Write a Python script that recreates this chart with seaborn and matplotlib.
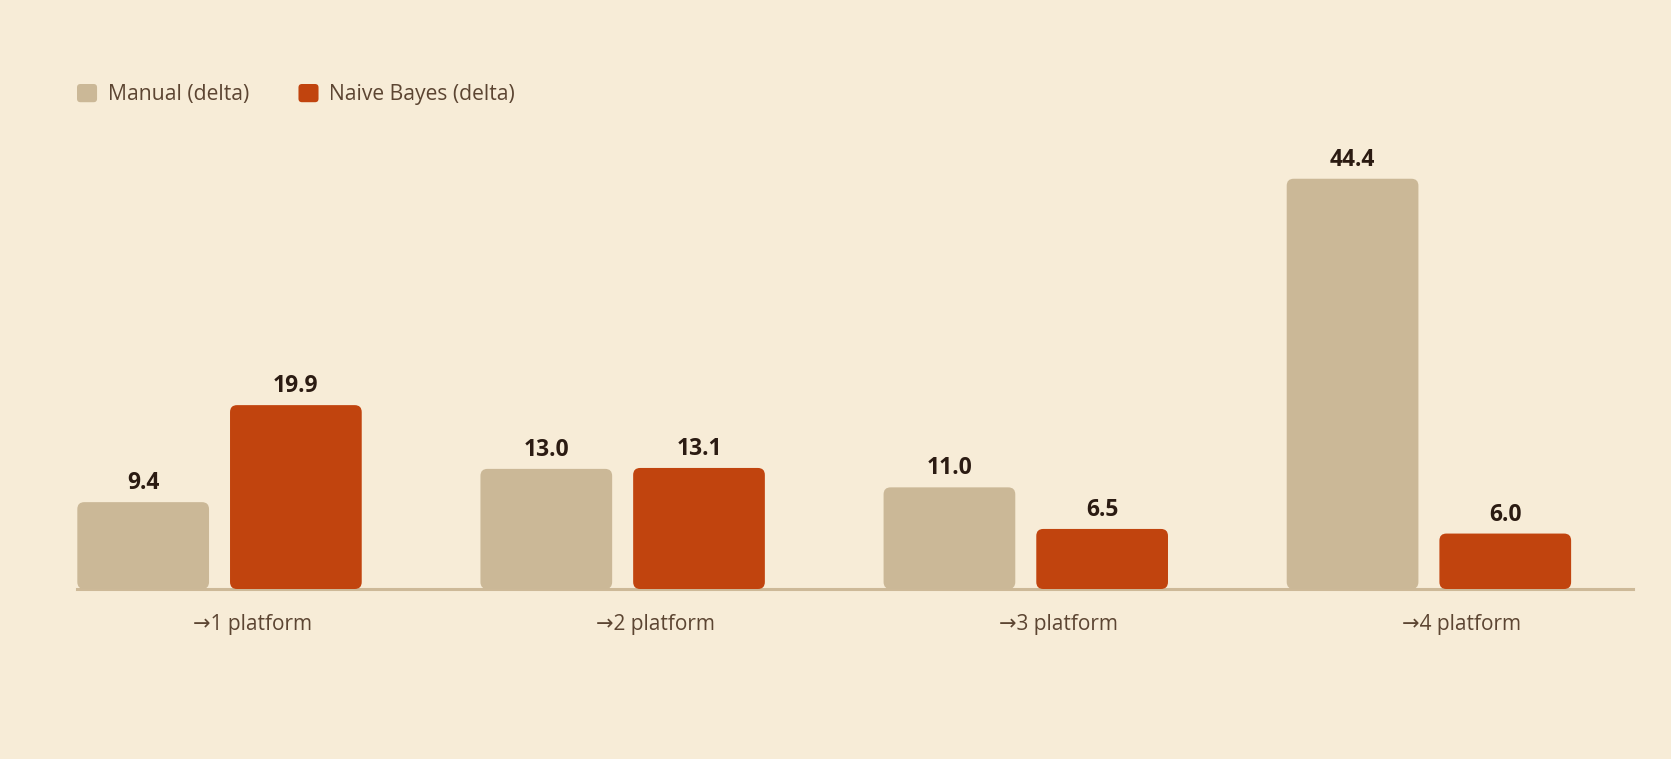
import matplotlib
matplotlib.use("Agg")
import matplotlib.pyplot as plt
import seaborn as sns
import pandas as pd
from matplotlib.patches import FancyBboxPatch, Patch
from matplotlib.legend_handler import HandlerPatch

# ---- data ----
categories = ["→1 platform", "→2 platform", "→3 platform", "→4 platform"]
series_names = ["Manual (delta)", "Naive Bayes (delta)"]
manual_values = [9.4, 13.0, 11.0, 44.4]
nb_values = [19.9, 13.1, 6.5, 6.0]
series_colors = ["#CBB897", "#C1440E"]

df = pd.DataFrame({
    "category": categories * 2,
    "series": [series_names[0]] * len(categories) + [series_names[1]] * len(categories),
    "value": manual_values + nb_values,
})

BG = "#F7ECD7"
TEXT = "#5C4532"
VALUE_TEXT = "#2B1B12"
AXIS = "#CDB998"

sns.set_theme(style="white")
plt.rcParams["font.family"] = ["Open Sans", "DejaVu Sans"]

W, H = 1671, 759
fig = plt.figure(figsize=(W / 100, H / 100), dpi=100, facecolor=BG)
ax = fig.add_axes([77.3 / W, 1 - 589 / H, (1633.3 - 77.3) / W, 462 / H])
ax.set_facecolor(BG)

sns.barplot(data=df, x="category", y="value", hue="series", order=categories,
            hue_order=series_names, palette=series_colors, width=0.7576, gap=0.1375,
            saturation=1, errorbar=None, legend=False, ax=ax)

ax.set_xlim(-0.3528, 3.507)
ax.set_ylim(0, 50)

# rounded bars
x_px_per_unit = 403.1
y_px_per_unit = 462 / 50
radius_px = 7
aspect = x_px_per_unit / y_px_per_unit
for container, color in zip(ax.containers, series_colors):
    for bar, val in zip(container.patches, container.datavalues):
        x, y = bar.get_x(), bar.get_y()
        w, h = bar.get_width(), bar.get_height()
        bar.set_visible(False)
        fp = FancyBboxPatch((x, y), w, h,
                            boxstyle=f"round,pad=0,rounding_size={radius_px / x_px_per_unit}",
                            mutation_aspect=aspect, facecolor=color, edgecolor="none",
                            zorder=2)
        ax.add_patch(fp)
        ax.annotate(f"{val:.1f}", xy=(x + w / 2, y + h), xytext=(0, 13),
                    textcoords="offset pixels", ha="center", va="baseline",
                    fontsize=16.5, fontweight="bold", color=VALUE_TEXT, zorder=3)

# axes styling
for side in ["top", "right", "left"]:
    ax.spines[side].set_visible(False)
ax.spines["bottom"].set_color(AXIS)
ax.spines["bottom"].set_linewidth(2.2)
ax.spines["bottom"].set_zorder(1)
ax.set_yticks([])
ax.set_xticks([i + 0.081 for i in range(len(categories))], labels=categories)
ax.tick_params(axis="x", length=0, pad=18, labelsize=15, labelcolor=TEXT)
ax.set_xlabel("")
ax.set_ylabel("")
ax.grid(False)

# legend with rounded squares
def rounded_square(legend, orig_handle, xdescent, ydescent, width, height, fontsize):
    return FancyBboxPatch((-xdescent, -ydescent), width, height,
                          boxstyle="round,pad=0,rounding_size=2.5")

handles = [Patch(facecolor=c, edgecolor="none", label=n) for c, n in zip(series_colors, series_names)]
leg = ax.legend(handles=handles, loc="upper left", ncol=2, frameon=False,
                bbox_to_anchor=(77 / W, 1 - 84 / H), bbox_transform=fig.transFigure,
                borderaxespad=0, borderpad=0, fontsize=15.2,
                handlelength=0.95, handleheight=0.95, handletextpad=0.5,
                columnspacing=2.35, labelcolor=TEXT,
                handler_map={Patch: HandlerPatch(patch_func=rounded_square)})

fig.savefig("out.png", dpi=100, facecolor=BG)
